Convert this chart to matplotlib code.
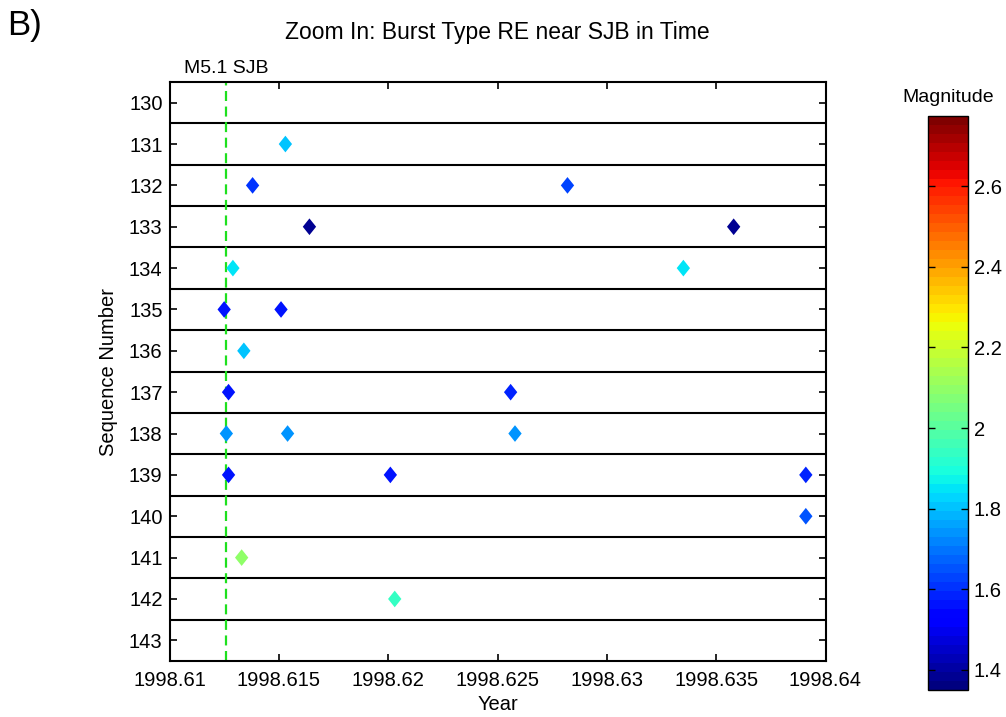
import matplotlib.pyplot as plt
import numpy as np
from matplotlib.path import Path

plt.rcParams['font.family'] = ['Liberation Sans', 'DejaVu Sans']

# repeating-earthquake events: time (decimal year), sequence number, magnitude
years = [1998.6153, 1998.6138, 1998.6282, 1998.6164, 1998.6358,
         1998.6129, 1998.6335, 1998.6125, 1998.6151, 1998.6134,
         1998.6127, 1998.6256, 1998.6126, 1998.6154, 1998.6258,
         1998.6127, 1998.6201, 1998.6391, 1998.6391, 1998.6133,
         1998.6203]
seqs = [131, 132, 132, 133, 133,
        134, 134, 135, 135, 136,
        137, 137, 138, 138, 138,
        139, 139, 139, 140, 141,
        142]
mags = [1.80, 1.61, 1.62, 1.39, 1.39,
        1.84, 1.86, 1.56, 1.57, 1.80,
        1.57, 1.58, 1.74, 1.74, 1.73,
        1.57, 1.57, 1.59, 1.65, 2.10,
        1.95]

sjb_time = 1998.6126
seq_ticks = list(range(130, 144))
year_ticks = [1998.61, 1998.615, 1998.62, 1998.625, 1998.63, 1998.635, 1998.64]
mag_ticks = [1.4, 1.6, 1.8, 2.0, 2.2, 2.4, 2.6]
mag_min, mag_max = 1.35, 2.775

W, H = 1006, 717
fig = plt.figure(figsize=(W / 100, H / 100), dpi=100)
ax = fig.add_axes([169.5 / W, 1 - 661 / H, 656 / W, 579 / H])

# separators between sequences
for s in seq_ticks[:-1]:
    ax.axhline(s + 0.5, color='black', lw=1.5, zorder=1)

ax.axvline(sjb_time, color='#1ee01e', lw=1.6, ls=(0, (4.5, 2.5)), zorder=2)
ax.text(sjb_time, 1.008, 'M5.1 SJB', transform=ax.get_xaxis_transform(),
        ha='center', va='bottom', fontsize=14)

diamond = Path([(0, 1), (0.8, 0), (0, -1), (-0.8, 0), (0, 1)],
               [Path.MOVETO, Path.LINETO, Path.LINETO, Path.LINETO, Path.CLOSEPOLY])
cmap = plt.get_cmap('jet', 64)
sc = ax.scatter(years, seqs, c=mags, cmap=cmap, vmin=mag_min, vmax=mag_max,
                marker=diamond, s=12 ** 2, linewidths=0, zorder=3)

ax.set_xlim(1998.61, 1998.64)
ax.set_ylim(143.5, 129.5)
ax.set_xticks(year_ticks)
ax.set_xticklabels([('%.3f' % t).rstrip('0') for t in year_ticks])
ax.set_yticks(seq_ticks)
ax.tick_params(direction='in', top=True, right=True, length=5, width=1.2,
               labelsize=14.5)
ax.tick_params(axis='x', pad=7)
ax.tick_params(axis='y', pad=5)
for sp in ax.spines.values():
    sp.set_linewidth(1.5)

fig.text(497.5 / W, 1 - 705 / H, 'Year', ha='center', va='center', fontsize=14.5)
fig.text(108 / W, 1 - 371.5 / H, 'Sequence Number', ha='center', va='center',
         rotation=90, fontsize=14.5)
fig.text(497.5 / W, 1 - 32 / H, 'Zoom In: Burst Type RE near SJB in Time',
         ha='center', va='center', fontsize=16.5)
fig.text(7 / W, 1 - 25 / H, 'B)', ha='left', va='center', fontsize=25)

# colorbar
cax = fig.add_axes([927.7 / W, 1 - 690 / H, 40.6 / W, (690 - 115.7) / H])
cb = fig.colorbar(sc, cax=cax, ticks=mag_ticks, format='%g')
cb.outline.set_linewidth(1.0)
cax.tick_params(direction='in', left=True, right=True, length=5, width=1,
                labelsize=14.5, pad=4)
fig.text(948 / W, 1 - 97 / H, 'Magnitude', ha='center', va='center', fontsize=14)

plt.savefig('out.png', dpi=100)
